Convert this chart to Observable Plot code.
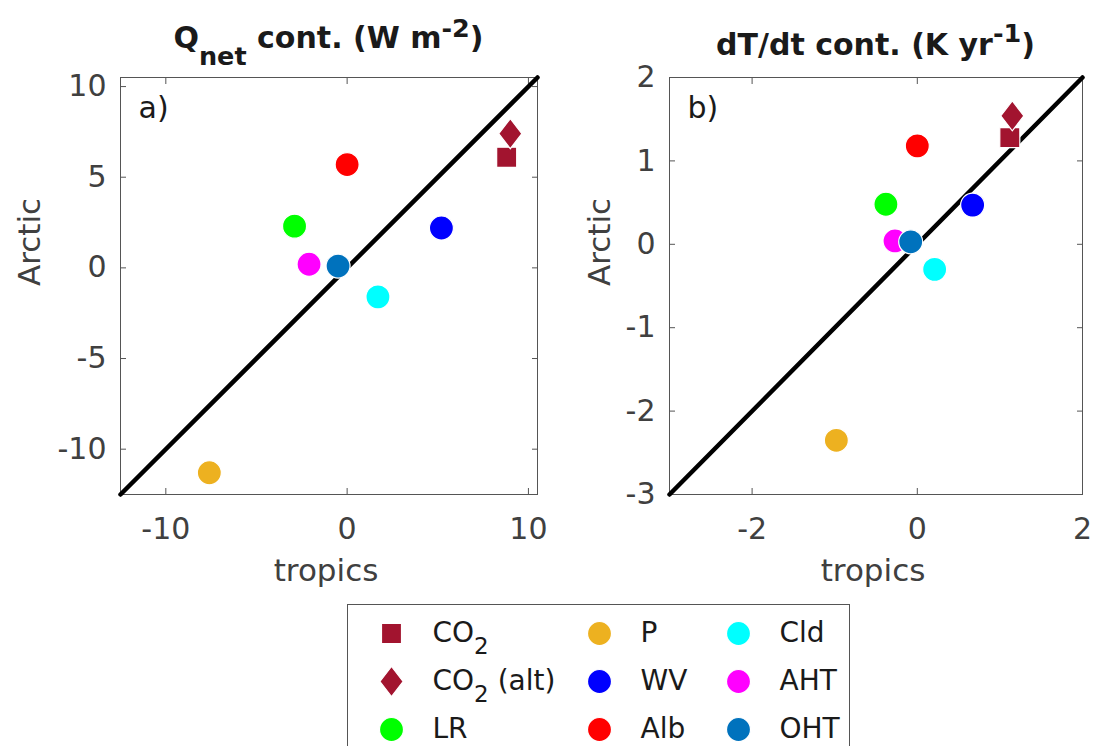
<!DOCTYPE html>
<html>
<head>
<meta charset="utf-8">
<script src="https://cdn.jsdelivr.net/npm/d3@7"></script>
<script src="https://cdn.jsdelivr.net/npm/@observablehq/plot@0.6"></script>
<style>
html, body { margin: 0; padding: 0; background: #fff; overflow: hidden; }
#root { position: relative; width: 1112px; height: 746px; font-family: "DejaVu Sans", sans-serif; }
#root > div { position: absolute; }
#lg { left: 347px; top: 604px; width: 501px; height: 160px; border: 1px solid #555; background: #fff; }
#lg > div { position: absolute; top: 0; }
</style>
</head>
<body>
<div id="root">
  <div id="pa" style="left:0;top:0"></div>
  <div id="pb" style="left:556px;top:0"></div>
  <div id="lg">
    <div id="lc0" style="left:22px"></div>
    <div id="lc1" style="left:230px"></div>
    <div id="lc2" style="left:369px"></div>
  </div>
</div>
<script>
// ---- data ----
const names   = ["CO2", "CO2 (alt)", "LR", "P", "WV", "Alb", "Cld", "AHT", "OHT"];
const colors  = ["#A2142F", "#A2142F", "#00FF00", "#EDB120", "#0000FF", "#FF0000", "#00FFFF", "#FF00FF", "#0072BD"];
const shapes  = ["square", "diamond", "circle", "circle", "circle", "circle", "circle", "circle", "circle"];

// panel a: Qnet contributions (W m-2)
const tropicsQ = [8.8, 9.0, -2.9, -7.6, 5.2, 0.0, 1.7, -2.1, -0.5];
const arcticQ  = [6.1, 7.4, 2.3, -11.3, 2.2, 5.7, -1.6, 0.2, 0.1];
// panel b: dT/dt contributions (K yr-1)
const tropicsT = [1.12, 1.15, -0.38, -0.98, 0.67, 0.0, 0.21, -0.27, -0.08];
const arcticT  = [1.28, 1.54, 0.48, -2.35, 0.47, 1.18, -0.30, 0.04, 0.03];

const domainA = [-12.5, 10.5];
const domainB = [-3, 2];
const xTicksA = [-10, 0, 10];
const yTicksA = [-10, -5, 0, 5, 10];
const xTicksB = [-2, 0, 2];
const yTicksB = [-3, -2, -1, 0, 1, 2];

const xLabel = "tropics";
const yLabel = "Arctic";

// ---- styling ----
const FONT = "DejaVu Sans";
const AX = "#555555";
const TXT = "#404040";

const diamondSym = {
  draw(ctx, size) {
    const h = Math.sqrt(size) * 0.705, w = h * 0.77;
    ctx.moveTo(0, -h); ctx.lineTo(w, 0); ctx.lineTo(0, h); ctx.lineTo(-w, 0); ctx.closePath();
  }
};
function symOf(i) { return shapes[i] === "diamond" ? diamondSym : shapes[i]; }
function rOf(i) { return shapes[i] === "square" ? 11.3 : 12; }

const fmt = d => String(d);

function panel(xs, ys, domain, xTicks, yTicks, tag, opts) {
  const marks = [
    Plot.frame({stroke: AX, strokeWidth: 1}),
    Plot.axisX({anchor: "bottom", ticks: xTicks, tickSize: -6, tickPadding: 29, tickFormat: fmt, fontSize: 30, fill: TXT, stroke: AX, label: null}),
    Plot.axisX({anchor: "top", ticks: xTicks, tickSize: -6, fill: "none", stroke: AX, label: null}),
    Plot.axisY({anchor: "left", ticks: yTicks, tickSize: -6, tickPadding: 20, tickFormat: fmt, fontSize: 30, fill: TXT, stroke: AX, label: null}),
    Plot.axisY({anchor: "right", ticks: yTicks, tickSize: -6, fill: "none", stroke: AX, label: null}),
    Plot.line(domain, {x: d => d, y: d => d, stroke: "#000", strokeWidth: 4.5}),
    Plot.text([tag], {frameAnchor: "top-left", dx: 18, dy: 19, lineAnchor: "top", textAnchor: "start", fontSize: 30, fill: "#1a1a1a"}),
    Plot.text([xLabel], {frameAnchor: "bottom", dx: -3, dy: 64, lineAnchor: "top", fontSize: 31, fill: TXT}),
    Plot.text([yLabel], {frameAnchor: "left", dx: opts.yLabelDx, rotate: -90, lineAnchor: "middle", fontSize: 31, fill: TXT})
  ];
  names.forEach((n, i) => {
    marks.push(Plot.dot([i], {x: j => xs[j], y: j => ys[j], r: rOf(i), symbol: symOf(i), fill: colors[i], stroke: "white", strokeWidth: 1.2}));
  });
  return Plot.plot({
    width: 556, height: 600,
    marginLeft: opts.ml, marginRight: opts.mr, marginTop: 77, marginBottom: 106,
    x: {domain: domain},
    y: {domain: domain},
    style: {fontFamily: FONT, background: "transparent", overflow: "visible"},
    marks
  });
}

function addTitle(svg, cx, baseline, parts) {
  const t = d3.select(svg).append("text")
    .attr("x", cx).attr("y", baseline)
    .attr("text-anchor", "middle")
    .attr("font-family", FONT).attr("font-weight", "bold").attr("font-size", 30)
    .attr("fill", "#1a1a1a");
  parts.forEach(p => {
    const s = t.append("tspan").text(p.t);
    if (p.dy) s.attr("dy", p.dy);
    if (p.small) s.attr("font-size", 25.5);
  });
}

const svgA = panel(tropicsQ, arcticQ, domainA, xTicksA, yTicksA, "a)", {ml: 120, mr: 19, yLabelDx: -90});
addTitle(svgA, 328.5, 48, [
  {t: "Q"}, {t: "net", dy: 17, small: true}, {t: " cont. (W m", dy: -17}, {t: "-2", dy: -11, small: true}, {t: ")", dy: 11}
]);
document.getElementById("pa").appendChild(svgA);

const svgB = panel(tropicsT, arcticT, domainB, xTicksB, yTicksB, "b)", {ml: 113, mr: 30, yLabelDx: -69});
addTitle(svgB, 319.5, 55, [
  {t: "dT/dt cont. (K yr"}, {t: "-1", dy: -13, small: true}, {t: ")", dy: 13}
]);
document.getElementById("pb").appendChild(svgB);

// ---- legend: three columns of three entries ----
for (let c = 0; c < 3; c++) {
  const idx = [0, 1, 2].map(r => c * 3 + r);
  const col = Plot.plot({
    width: 130, height: 150,
    margin: 0,
    x: {axis: null},
    y: {domain: [0, 2], range: [28, 124], axis: null},
    style: {fontFamily: FONT, background: "transparent", overflow: "visible"},
    marks: [
      ...idx.map(i => Plot.dot([i], {y: j => j % 3, frameAnchor: "left", dx: 21, r: rOf(i), symbol: symOf(i), fill: colors[i], stroke: "white", strokeWidth: 1.2})),
      Plot.text(idx, {y: j => j % 3, text: j => names[j], frameAnchor: "left", dx: 62, textAnchor: "start", lineAnchor: "middle", fontSize: 28, fill: "#1a1a1a"})
    ]
  });
  d3.select(col).selectAll("text").each(function() {
    const t = this.textContent;
    if (t.startsWith("CO2")) {
      const rest = t.slice(3);
      this.textContent = "";
      const s = d3.select(this);
      s.append("tspan").text("CO");
      s.append("tspan").attr("dy", 12).attr("font-size", 23).text("2");
      if (rest) s.append("tspan").attr("dy", -12).text(rest);
    }
  });
  document.getElementById("lc" + c).appendChild(col);
}
</script>
</body>
</html>
